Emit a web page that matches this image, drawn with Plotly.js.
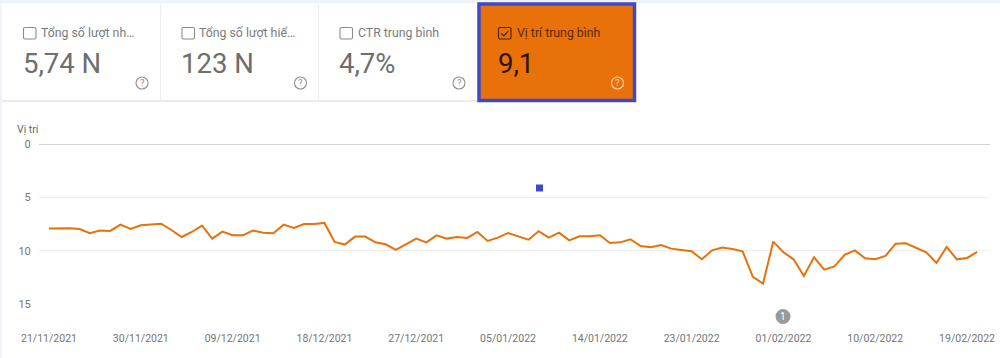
<!DOCTYPE html>
<html>
<head>
<meta charset="utf-8">
<script src="https://cdn.plot.ly/plotly-3.0.1.min.js"></script>
<style>html,body{margin:0;padding:0;background:#fff}#c{width:1000px;height:358px}</style>
</head>
<body>
<div id="c"></div>
<script>
const dates = [
"2021-11-21","2021-11-22","2021-11-23","2021-11-24","2021-11-25","2021-11-26","2021-11-27","2021-11-28","2021-11-29","2021-11-30",
"2021-12-01","2021-12-02","2021-12-03","2021-12-04","2021-12-05","2021-12-06","2021-12-07","2021-12-08","2021-12-09","2021-12-10",
"2021-12-11","2021-12-12","2021-12-13","2021-12-14","2021-12-15","2021-12-16","2021-12-17","2021-12-18","2021-12-19","2021-12-20",
"2021-12-21","2021-12-22","2021-12-23","2021-12-24","2021-12-25","2021-12-26","2021-12-27","2021-12-28","2021-12-29","2021-12-30","2021-12-31",
"2022-01-01","2022-01-02","2022-01-03","2022-01-04","2022-01-05","2022-01-06","2022-01-07","2022-01-08","2022-01-09","2022-01-10",
"2022-01-11","2022-01-12","2022-01-13","2022-01-14","2022-01-15","2022-01-16","2022-01-17","2022-01-18","2022-01-19","2022-01-20",
"2022-01-21","2022-01-22","2022-01-23","2022-01-24","2022-01-25","2022-01-26","2022-01-27","2022-01-28","2022-01-29","2022-01-30","2022-01-31",
"2022-02-01","2022-02-02","2022-02-03","2022-02-04","2022-02-05","2022-02-06","2022-02-07","2022-02-08","2022-02-09","2022-02-10",
"2022-02-11","2022-02-12","2022-02-13","2022-02-14","2022-02-15","2022-02-16","2022-02-17","2022-02-18","2022-02-19","2022-02-20"];
const positions = [
7.93,7.90,7.90,7.97,8.37,8.12,8.15,7.56,7.97,7.62,
7.53,7.47,8.06,8.72,8.25,7.65,8.87,8.22,8.56,8.56,
8.12,8.31,8.37,7.56,7.87,7.50,7.50,7.40,9.18,9.43,
8.68,8.68,9.22,9.40,9.93,9.43,8.87,9.22,8.56,8.87,8.72,
8.81,8.25,9.09,8.78,8.34,8.62,8.97,8.18,8.78,8.31,
9.03,8.65,8.65,8.56,9.28,9.22,8.93,9.56,9.68,9.47,
9.81,9.93,10.06,10.81,9.97,9.71,9.84,10.06,12.46,13.09,9.15,
10.15,10.81,12.37,10.62,11.78,11.47,10.40,9.97,10.71,10.81,
10.50,9.34,9.31,9.71,10.15,11.15,9.65,10.81,10.68,10.12];
const tickDates = ["2021-11-21","2021-11-30","2021-12-09","2021-12-18","2021-12-27","2022-01-05","2022-01-14","2022-01-23","2022-02-01","2022-02-10","2022-02-19"];
const tickLabels = ["21/11/2021","30/11/2021","09/12/2021","18/12/2021","27/12/2021","05/01/2022","14/01/2022","23/01/2022","01/02/2022","10/02/2022","19/02/2022"];
const cardTitles = ["Tổng số lượt nh…","Tổng số lượt hiể…","CTR trung bình","Vị trí trung bình"];
const cardValues = ["5,74 N","123 N","4,7%","9,1"];

const W=1000,H=358,L=39,R=990,T=144,B=304;
const px=x=>(x-L)/(R-L), py=y=>(B-y)/(B-T);
const rect=(x0,y0,x1,y1,o)=>Object.assign({type:'rect',xref:'paper',yref:'paper',x0:px(x0),x1:px(x1),y0:py(y0),y1:py(y1),layer:'below',line:{width:0}},o);
const circle=(cx,cy,r,o)=>Object.assign({type:'circle',xref:'paper',yref:'paper',x0:px(cx-r),x1:px(cx+r),y0:py(cy-r),y1:py(cy+r),layer:'above',line:{width:0}},o);
const line=(x0,y0,x1,y1,c,w)=>({type:'line',xref:'paper',yref:'paper',x0:px(x0),x1:px(x1),y0:py(y0),y1:py(y1),layer:'below',line:{color:c,width:w||1}});
const text=(x,y,t,size,color,anchor)=>({xref:'paper',yref:'paper',x:px(x),y:py(y),text:t,showarrow:false,xanchor:anchor||'left',yanchor:'middle',borderpad:0,
  font:{family:'Roboto, sans-serif',size:size,color:color}});
const roundRect=(x0,y0,x1,y1,r,o)=>{
  const X=px,Y=py;
  const path=`M${X(x0+r)},${Y(y0)} L${X(x1-r)},${Y(y0)} Q${X(x1)},${Y(y0)} ${X(x1)},${Y(y0+r)} L${X(x1)},${Y(y1-r)} Q${X(x1)},${Y(y1)} ${X(x1-r)},${Y(y1)} L${X(x0+r)},${Y(y1)} Q${X(x0)},${Y(y1)} ${X(x0)},${Y(y1-r)} L${X(x0)},${Y(y0+r)} Q${X(x0)},${Y(y0)} ${X(x0+r)},${Y(y0)} Z`;
  return Object.assign({type:'path',xref:'paper',yref:'paper',path:path,layer:'below'},o);
};

const bg='#f1f3fb', orange='#e8710a', blue='#3f48cc';
const boxX=[23.5,182,340,498.5], labelX=[39.5,197.5,356.5,515.5], valueX=[22,180,338,497], helpX=[142,300.5,459,617.5];
const shapes=[
  rect(0,0,W,3.5,{fillcolor:bg}),
  rect(0,0,2,H,{fillcolor:bg}),
  roundRect(2,3.5,1040,420,12,{fillcolor:'#ffffff',line:{width:0}}),
  line(2,101,636,101,'#e6e6e6',1.5),
  line(160.5,4,160.5,101,'#eeeeee',1.2),
  line(318.5,4,318.5,101,'#eeeeee',1.2),
  rect(479,4,634.5,100.5,{fillcolor:orange,line:{color:blue,width:3.5}})
];
const annotations=[text(16,129,'Vị trí',10.5,'#666666')];
cardTitles.forEach((t,i)=>{
  const on=i===3;
  shapes.push(roundRect(boxX[i],27.5,boxX[i]+12.5,39,1.5,{fillcolor:'rgba(0,0,0,0)',line:{color:on?'#4a2206':'#8a8a8a',width:1.1}}));
  annotations.push(text(labelX[i],32.5,t,12.3,on?'#5a2a05':'#7a7a7a'));
  annotations.push(text(valueX[i],63.5,cardValues[i],27.5,on?'#2f1402':'#6e6e6e'));
  shapes.push(circle(helpX[i],83,6,{fillcolor:'rgba(0,0,0,0)',line:{color:on?'#fbd3ac':'#8f8f8f',width:1.1}}));
  annotations.push(text(helpX[i],83,'?',9.5,on?'#fbd3ac':'#8f8f8f','center'));
});
shapes.push({type:'path',xref:'paper',yref:'paper',layer:'above',
  path:`M${px(501.3)},${py(33.5)} L${px(503.8)},${py(36)} L${px(508.5)},${py(30.8)}`,
  line:{color:'#4a2206',width:1.2}});
shapes.push(rect(536,184.5,543,191.5,{fillcolor:blue,layer:'above'}));
shapes.push(circle(783,316.5,7.5,{fillcolor:'#9a9a9a'}));
annotations.push(text(783,316.5,'1',10,'#ffffff','center'));

const trace={x:dates,y:positions,type:'scatter',mode:'lines',line:{color:orange,width:2,shape:'linear'},hoverinfo:'skip'};
const layout={
  width:W,height:H,margin:{l:L,r:W-R,t:T,b:H-B,pad:0},
  paper_bgcolor:'#ffffff',plot_bgcolor:'rgba(0,0,0,0)',showlegend:false,
  font:{family:'Roboto, sans-serif',color:'#757575'},
  xaxis:{type:'date',range:['2021-11-20 00:28','2022-02-21 06:00'],tickmode:'array',tickvals:tickDates,ticktext:tickLabels,
    showgrid:false,zeroline:false,showline:false,ticks:'outside',ticklen:24.5,tickcolor:'rgba(0,0,0,0)',tickwidth:1,
    tickfont:{family:'Roboto, sans-serif',size:10.5,color:'#757575'},tickangle:0,automargin:false},
  yaxis:{range:[15,0],tickmode:'array',tickvals:[0,5,10,15],ticktext:['0','5','10','15'],
    showgrid:true,gridcolor:'#efefef',gridwidth:1,zeroline:false,showline:false,ticks:'outside',ticklen:5,tickcolor:'rgba(0,0,0,0)',
    tickfont:{family:'Roboto, sans-serif',size:11,color:'#757575'},automargin:false},
  shapes:shapes.concat([{type:'line',xref:'paper',yref:'y',x0:0,x1:1,y0:0,y1:0,line:{color:'#a8a8a8',width:1},layer:'below'}]),
  annotations:annotations
};
Plotly.newPlot('c',[trace],layout,{displayModeBar:false,staticPlot:true});
</script>
</body>
</html>
